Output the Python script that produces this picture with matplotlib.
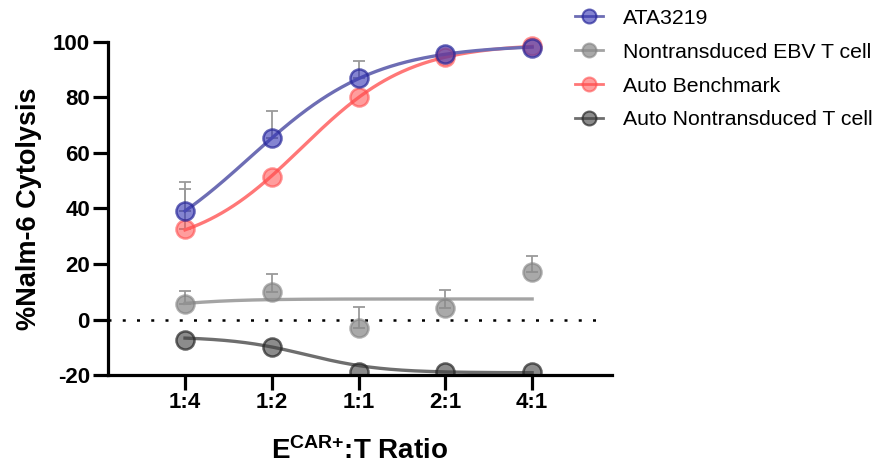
import numpy as np
import matplotlib
matplotlib.use("Agg")
import matplotlib.pyplot as plt
from matplotlib.patches import Rectangle

plt.rcParams['font.family'] = ['Liberation Sans', 'DejaVu Sans']
plt.rcParams['axes.unicode_minus'] = False
plt.rcParams['mathtext.fontset'] = 'custom'
plt.rcParams['mathtext.rm'] = 'Liberation Sans'
plt.rcParams['mathtext.bf'] = 'Liberation Sans:bold'

ratios = ["1:4", "1:2", "1:1", "2:1", "4:1"]
xlog = np.array([-2, -1, 0, 1, 2], dtype=float)  # log2 of E:T ratio

ata3219 = [39.0, 65.5, 87.0, 95.5, 98.0]
ata3219_err = [10.5, 9.5, 6.0, 0.0, 0.0]
ebv_nt = [5.5, 10.0, -3.0, 4.0, 17.0]
ebv_nt_err = [4.8, 6.4, 7.5, 6.6, 6.0]
auto_bench = [32.5, 51.5, 80.0, 94.5, 98.5]
auto_bench_err = [14.5, 0.0, 0.0, 0.0, 0.0]
auto_nt = [-7.5, -10.0, -19.0, -19.0, -19.0]
auto_nt_err = [0.0, 0.0, 0.0, 0.0, 0.0]

# 4PL curve parameters (bottom, top, logEC50, hill)
ebv_nt_curve = (2.6, 7.4, -2.3, 1.0)
auto_nt_curve = (-6.2, -19.2, -0.6, 1.0)

labels = ["ATA3219", "Nontransduced EBV T cell", "Auto Benchmark", "Auto Nontransduced T cell"]


def fit4pl(x, y):
    y = np.asarray(y, float)
    best = None
    for c in np.linspace(-4, 4, 161):
        for h in np.linspace(0.1, 4, 79):
            f = 1.0 / (1.0 + 10 ** ((c - x) * h))
            A = np.vstack([np.ones_like(f), f]).T
            coef, *_ = np.linalg.lstsq(A, y, rcond=None)
            sse = np.sum((A @ coef - y) ** 2)
            if best is None or sse < best[0]:
                best = (sse, c, h, coef)
    _, c, h, coef = best
    return lambda t: coef[0] + coef[1] / (1.0 + 10 ** ((c - t) * h))


def curve4pl(params):
    b, t, c, h = params
    return lambda x: b + (t - b) / (1.0 + 10 ** ((c - x) * h))


fig = plt.figure(figsize=(8.77, 4.68), dpi=100)
ax = fig.add_axes([0.1231, 0.1987, 0.698 - 0.1231, 0.9103 - 0.1987])

# clip region: bottom at the x axis, open above the top
clip_rect = Rectangle((0, 0), 1, 1.2, transform=ax.transAxes, facecolor='none', edgecolor='none')
ax.add_patch(clip_rect)

ax.axhline(0, color='black', linestyle=(0, (1.2, 4.5)), linewidth=1.8, zorder=1, xmin=0, xmax=0.98)

series = [
    (auto_nt, auto_nt_err, curve4pl(auto_nt_curve), '#6e6e6e', (0.25, 0.25, 0.25, 0.6), (0.15, 0.15, 0.15, 0.7)),
    (ebv_nt, ebv_nt_err, curve4pl(ebv_nt_curve), '#a4a4a4', (0.55, 0.55, 0.55, 0.75), (0.5, 0.5, 0.5, 0.6)),
    (auto_bench, auto_bench_err, fit4pl(xlog, auto_bench), '#ff7777', (1.0, 0.3, 0.3, 0.55), (1.0, 0.3, 0.3, 0.6)),
    (ata3219, ata3219_err, fit4pl(xlog, ata3219), '#6d6db4', (0.2, 0.2, 0.7, 0.6), (0.15, 0.15, 0.6, 0.7)),
]
order_labels = [labels[3], labels[1], labels[2], labels[0]]

tt = np.linspace(-2, 2, 300)
handles = {}
for (vals, err, f, lc, fc, ec), lab in zip(series, order_labels):
    vals = np.array(vals)
    err = np.array(err)
    mask = err > 0
    ax.errorbar(xlog[mask], vals[mask], yerr=[np.zeros(mask.sum()), err[mask]],
                fmt='none', ecolor='#9a9a9a', elinewidth=1.3, capsize=4, capthick=1.3, zorder=2)
    ln, = ax.plot(tt, f(tt), color=lc, linewidth=2.4, zorder=3)
    ln.set_clip_path(clip_rect)
    mk, = ax.plot(xlog, vals, 'o', markersize=13, markerfacecolor=fc, markeredgecolor=ec,
                  markeredgewidth=1.8, zorder=4)
    mk.set_clip_path(clip_rect)
    h, = ax.plot([], [], '-o', color=lc, linewidth=2, markersize=10,
                 markerfacecolor=fc, markeredgecolor=ec, markeredgewidth=1.5)
    handles[lab] = h

ax.set_xlim(-2.888, 2.922)
ax.set_ylim(-20, 100)
ax.set_xticks(xlog)
ax.set_xticklabels(ratios)
ax.set_yticks([-20, 0, 20, 40, 60, 80, 100])
for s in ['top', 'right']:
    ax.spines[s].set_visible(False)
for s in ['left', 'bottom']:
    ax.spines[s].set_linewidth(2.3)
    ax.spines[s].set_zorder(6)
ax.tick_params(axis='both', width=2.3, length=11, labelsize=16)
ax.tick_params(axis='y', pad=2)
ax.tick_params(axis='x', pad=1)
for t in ax.get_xticklabels() + ax.get_yticklabels():
    t.set_fontweight('bold')

ax.set_ylabel('%Nalm-6 Cytolysis', fontsize=19.5, fontweight='bold', labelpad=8)
ax.set_xlabel(r'$\mathbf{E^{CAR{+}}}$:T Ratio', fontsize=20, fontweight='bold', labelpad=18)

leg = fig.legend([handles[l] for l in labels], labels, loc='upper left',
                 bbox_to_anchor=(0.634, 1.022), frameon=False, fontsize=15.3,
                 handlelength=1.3, labelspacing=0.7, handletextpad=0.93)

fig.savefig('out.png', dpi=100)
